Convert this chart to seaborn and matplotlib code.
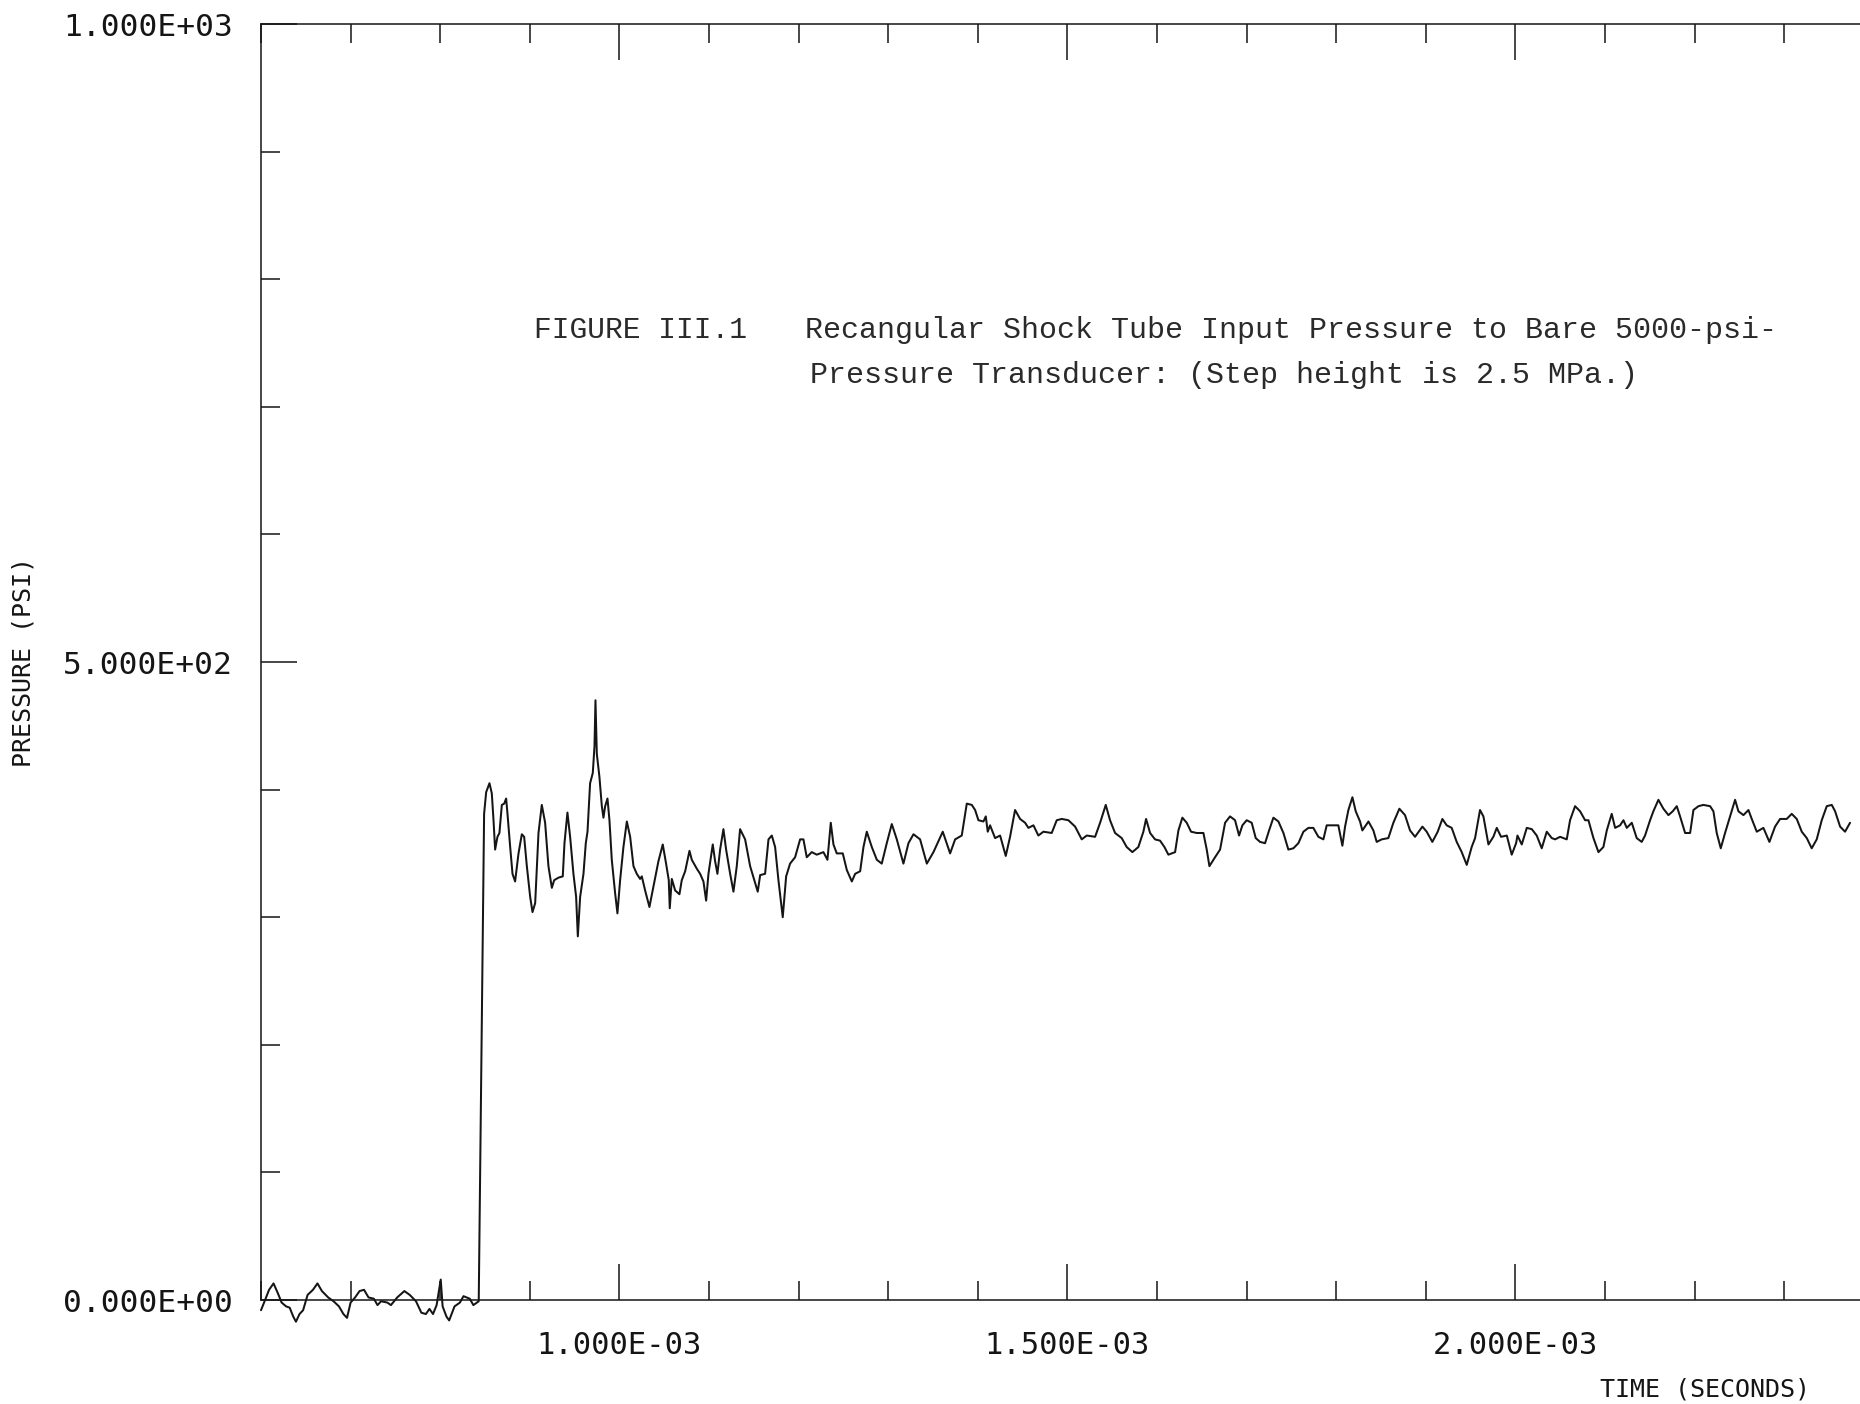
import numpy as np
import pandas as pd
import matplotlib
matplotlib.use("Agg")
import matplotlib.pyplot as plt
from matplotlib.ticker import FixedLocator, MultipleLocator, FuncFormatter
import seaborn as sns

# ---------------- data (time in milliseconds, pressure in psi) ----------------
baseline_time_ms = [0.600, 0.604, 0.609, 0.614, 0.619, 0.623, 0.628, 0.632, 0.636, 0.639,
                    0.643, 0.647, 0.652, 0.658, 0.663, 0.668, 0.675, 0.681, 0.687, 0.692,
                    0.696, 0.700, 0.705, 0.710, 0.715, 0.720, 0.726, 0.730, 0.734, 0.741,
                    0.745, 0.752, 0.760, 0.766, 0.773, 0.779, 0.784, 0.788, 0.792, 0.796,
                    0.8006, 0.8027, 0.807, 0.810, 0.816, 0.822, 0.826, 0.833, 0.837, 0.841,
                    0.843]
baseline_psi = [-8, -1, 8, 13, 5, -2, -5, -6, -13, -17,
                -11, -8, 4, 8, 13, 7, 2, -1, -5, -11,
                -14, -2, 2, 7, 8, 2, 1, -4, -1, -2,
                -4, 2, 7, 4, -1, -10, -11, -7, -11, -4,
                16, -5, -13, -16, -5, -2, 3, 1, -4, -2,
                -1]

early_time_ms = [0.8490, 0.8513, 0.8550, 0.8576, 0.8595, 0.8613, 0.8639, 0.8661, 0.8688, 0.8714,
                 0.8736, 0.8751, 0.8781, 0.8807, 0.8836, 0.8874, 0.8911, 0.8937, 0.8967, 0.9004,
                 0.9030, 0.9060, 0.9097, 0.9134, 0.9171, 0.9208, 0.9246, 0.9272, 0.9320, 0.9368,
                 0.9387, 0.9420, 0.9450, 0.9487, 0.9517, 0.9536, 0.9562, 0.9599, 0.9625, 0.9644,
                 0.9673, 0.9703, 0.9722, 0.9733, 0.9748, 0.9777, 0.9804, 0.9822, 0.9841, 0.9867,
                 0.9889, 0.9915, 0.9952, 0.9978, 1.0008, 1.0045, 1.0083, 1.0120, 1.0157, 1.0194,
                 1.0231, 1.0250, 1.0287, 1.0335, 1.0380, 1.0436, 1.0484, 1.0521, 1.0551, 1.0562,
                 1.0585, 1.0622, 1.0670, 1.0696, 1.0734, 1.0782, 1.0808, 1.0864, 1.0901, 1.0938,
                 1.0968, 1.0994, 1.1042, 1.1068, 1.1094, 1.1124, 1.1161, 1.1191, 1.1236, 1.1273,
                 1.1310, 1.1347, 1.1403, 1.1459, 1.1515, 1.1544, 1.1571, 1.1626, 1.1664, 1.1701,
                 1.1738, 1.1775, 1.1823, 1.1861, 1.1905, 1.1961, 1.2017, 1.2054, 1.2091, 1.2147,
                 1.2203, 1.2277, 1.2322, 1.2359, 1.2389, 1.2426, 1.2493, 1.2538, 1.2594, 1.2631,
                 1.2687, 1.2724, 1.2761, 1.2817, 1.2873, 1.2928, 1.2984, 1.3040, 1.3096, 1.3170,
                 1.3226, 1.3282, 1.3356, 1.3431, 1.3505, 1.3609, 1.3691, 1.3747, 1.3821, 1.3877,
                 1.3933, 1.3970, 1.4007, 1.4063]
early_psi = [381, 398, 405, 397, 376, 353, 363, 366, 388, 389,
             393, 381, 355, 334, 328, 350, 365, 363, 340, 316,
             304, 311, 366, 388, 374, 340, 323, 329, 331, 332,
             358, 382, 363, 334, 316, 285, 316, 334, 358, 367,
             405, 413, 434, 470, 428, 410, 387, 378, 387, 393,
             376, 345, 319, 303, 329, 355, 375, 363, 340, 334,
             330, 332, 321, 308, 324, 344, 357, 342, 329, 307,
             330, 321, 318, 329, 336, 352, 345, 338, 334, 328,
             313, 334, 357, 344, 334, 353, 369, 353, 334, 320,
             340, 369, 361, 340, 327, 320, 333, 334, 361, 364,
             355, 329, 300, 332, 342, 347, 361, 361, 347, 351,
             349, 351, 345, 374, 357, 350, 350, 337, 328, 334,
             336, 355, 367, 355, 345, 342, 358, 373, 361, 342,
             358, 365, 361, 342, 351, 367, 350, 361, 364, 389,
             388, 384, 376, 375]

mid_time_ms = [1.4089, 1.4111, 1.4137, 1.4193, 1.4249, 1.4312, 1.4360, 1.4416, 1.4472, 1.4528,
               1.4565, 1.4621, 1.4676, 1.4732, 1.4825, 1.4881, 1.4937, 1.5011, 1.5086, 1.5160,
               1.5216, 1.5309, 1.5365, 1.5428, 1.5476, 1.5532, 1.5606, 1.5662, 1.5725, 1.5792,
               1.5848, 1.5878, 1.5923, 1.5978, 1.6034, 1.6083, 1.6127, 1.6202, 1.6239, 1.6283,
               1.6332, 1.6380, 1.6443, 1.6518, 1.6555, 1.6585, 1.6648, 1.6704, 1.6760, 1.6815,
               1.6871, 1.6916, 1.6953, 1.7001, 1.7057, 1.7102, 1.7150, 1.7206, 1.7251, 1.7299,
               1.7355, 1.7411, 1.7466, 1.7522, 1.7578, 1.7634, 1.7690, 1.7745, 1.7801, 1.7857,
               1.7894, 1.7950, 1.8024, 1.8069, 1.8099, 1.8136, 1.8181, 1.8218, 1.8266, 1.8292,
               1.8360, 1.8415, 1.8452, 1.8508, 1.8582, 1.8638, 1.8705, 1.8768, 1.8824, 1.8880,
               1.8962, 1.9010, 1.9073, 1.9133, 1.9185, 1.9233, 1.9289, 1.9345, 1.9401, 1.9457,
               1.9512, 1.9550, 1.9605, 1.9643, 1.9699, 1.9754, 1.9792, 1.9840]
mid_psi = [379, 367, 372, 362, 364, 348, 363, 384, 377, 374,
           370, 372, 364, 367, 366, 376, 377, 376, 371, 361,
           364, 363, 374, 388, 376, 366, 362, 355, 351, 355,
           367, 377, 366, 361, 360, 355, 349, 351, 368, 378,
           374, 367, 366, 366, 353, 340, 347, 353, 374, 379,
           376, 364, 372, 376, 374, 362, 359, 358, 368, 378,
           375, 366, 353, 354, 358, 367, 370, 370, 363, 361,
           372, 372, 372, 356, 371, 384, 394, 383, 375, 368,
           375, 368, 359, 361, 362, 374, 385, 380, 368, 363,
           371, 367, 359, 367, 377, 372, 370, 359, 351, 341,
           355, 362, 384, 379, 357, 363, 370, 363]

late_time_ms = [1.9904, 1.9959, 2.0008, 2.0023, 2.0071, 2.0127, 2.0183, 2.0238, 2.0294, 2.0350,
                2.0406, 2.0443, 2.0499, 2.0573, 2.0610, 2.0666, 2.0722, 2.0778, 2.0815, 2.0871,
                2.0927, 2.0982, 2.1020, 2.1075, 2.1113, 2.1168, 2.1206, 2.1243, 2.1299, 2.1354,
                2.1410, 2.1447, 2.1503, 2.1540, 2.1596, 2.1652, 2.1708, 2.1756, 2.1801, 2.1838,
                2.1894, 2.1950, 2.1987, 2.2043, 2.2098, 2.2173, 2.2210, 2.2247, 2.2292, 2.2340,
                2.2396, 2.2452, 2.2489, 2.2545, 2.2601, 2.2638, 2.2694, 2.2768, 2.2835, 2.2898,
                2.2954, 2.3028, 2.3084, 2.3140, 2.3196, 2.3252, 2.3307, 2.3363, 2.3419, 2.3475,
                2.3531, 2.3568, 2.3624, 2.3679, 2.3735]
late_psi = [364, 349, 358, 364, 357, 370, 369, 364, 354, 367,
            362, 361, 363, 361, 376, 387, 383, 376, 376, 362,
            351, 355, 368, 381, 370, 372, 376, 370, 374, 362,
            359, 364, 376, 383, 392, 385, 380, 383, 387, 379,
            366, 366, 384, 387, 388, 387, 383, 366, 354, 366,
            379, 392, 383, 380, 384, 377, 367, 370, 359, 371,
            377, 377, 381, 377, 367, 362, 354, 361, 376, 387,
            388, 383, 371, 367, 374]

y_major_ticks = [0, 500, 1000]
x_major_ticks_ms = [1.0, 1.5, 2.0]
x_limits_ms = [0.6, 2.3846]
y_limits = [0, 1000]

title_tag = "FIGURE III.1"
title_line1 = "Recangular Shock Tube Input Pressure to Bare 5000-psi-"
title_line2 = "Pressure Transducer: (Step height is 2.5 MPa.)"
x_label = "TIME (SECONDS)"
y_label = "PRESSURE (PSI)"

# ---------------- build table ----------------
time_ms = baseline_time_ms + early_time_ms + mid_time_ms + late_time_ms
psi = baseline_psi + early_psi + mid_psi + late_psi
df = pd.DataFrame({"time_s": np.asarray(time_ms) * 1e-3, "pressure_psi": psi})

# ---------------- style ----------------
sns.set_style("white")
plt.rcParams["font.family"] = ["DejaVu Sans Mono", "DejaVu Sans"]
INK = "#151515"

W, H = 1860, 1404
fig = plt.figure(figsize=(W / 100, H / 100), dpi=100)
ax_left, ax_bottom, ax_top = 261, 1300, 24
ax = fig.add_axes([ax_left / W, (H - ax_bottom) / H, 1 - ax_left / W, (ax_bottom - ax_top) / H])

sns.lineplot(data=df, x="time_s", y="pressure_psi", ax=ax, color=INK,
             linewidth=1.45, estimator=None, sort=False)
for ln in ax.lines:
    ln.set_clip_on(False)

ax.set_xlim(x_limits_ms[0] * 1e-3, x_limits_ms[1] * 1e-3)
ax.set_ylim(*y_limits)

ax.xaxis.set_major_locator(FixedLocator([v * 1e-3 for v in x_major_ticks_ms]))
ax.xaxis.set_minor_locator(MultipleLocator(1e-4))
ax.yaxis.set_major_locator(FixedLocator(y_major_ticks))
ax.yaxis.set_minor_locator(MultipleLocator(100))
fmt = FuncFormatter(lambda v, p: f"{v:.3E}")
ax.xaxis.set_major_formatter(fmt)
ax.yaxis.set_major_formatter(fmt)

ax.tick_params(which="both", direction="in", top=True, bottom=True, left=True,
               right=False, color=INK, width=1.1)
ax.tick_params(which="major", length=26)
ax.tick_params(which="minor", length=14)
ax.tick_params(axis="x", which="major", labelsize=22, pad=22, labelcolor=INK)
ax.tick_params(axis="y", which="major", labelsize=22.5, pad=20, labelcolor=INK)

ax.set_xlabel("")
ax.set_ylabel("")
for side in ["left", "bottom", "top"]:
    ax.spines[side].set_color(INK)
    ax.spines[side].set_linewidth(1.1)
ax.spines["right"].set_visible(False)

fig.text(24 / W, 1 - 662 / H, y_label, rotation=90, ha="center", va="center",
         fontsize=18, color=INK)
fig.text(1705 / W, 1 - 1389 / H, x_label, ha="center", va="center",
         fontsize=18, color=INK)

mono = ["Liberation Mono", "DejaVu Sans Mono"]
fig.text(534 / W, 1 - 330 / H, title_tag, ha="left", va="center",
         family=mono, fontsize=21.3, color="#2a2a2a")
fig.text(805 / W, 1 - 330 / H, title_line1, ha="left", va="center",
         family=mono, fontsize=21.6, color="#2a2a2a")
fig.text(810 / W, 1 - 375 / H, title_line2, ha="left", va="center",
         family=mono, fontsize=21.6, color="#2a2a2a")

fig.savefig("out.png", dpi=100)
